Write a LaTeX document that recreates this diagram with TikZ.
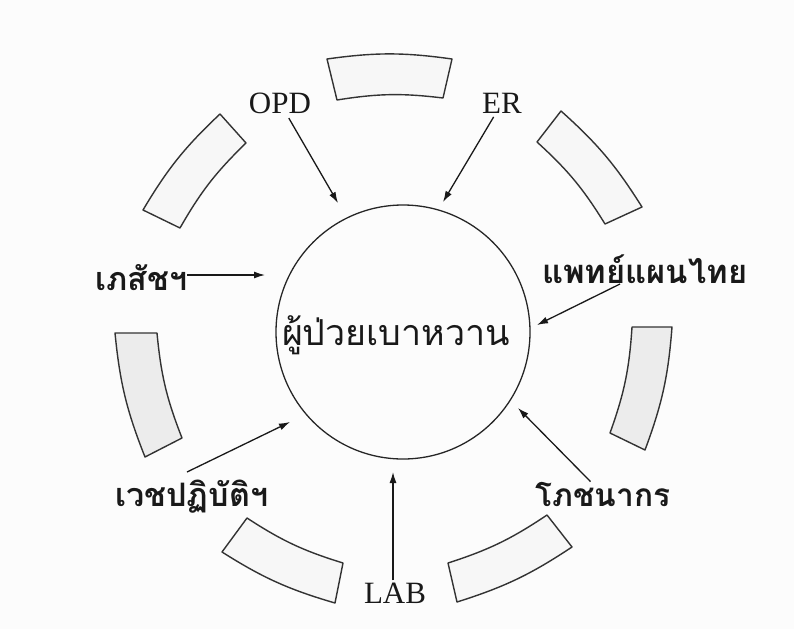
\documentclass[tikz,border=0pt]{standalone}
\usepackage{fontspec}
\setmainfont{Liberation Serif}
\newfontfamily\thaifont[Script=Thai]{Loma}
\usetikzlibrary{arrows.meta,calc}
\begin{document}
\begin{tikzpicture}[x=1pt,y=-1pt,
  seg/.style={draw=black!80, line width=1.4pt, fill=gray!6, line join=round},
  segdark/.style={seg, fill=gray!15},
  arr/.style={-{Latex[length=11pt,width=7pt]}, line width=1.3pt, draw=black!90},
  lat/.style={font=\fontsize{31}{36}\selectfont, text=black!90, inner sep=2pt},
  thl/.style={inner sep=0pt, text=black!90}]
\fill[gray!2] (0,0) rectangle (794,629);
\useasboundingbox (0,0) rectangle (794,629);

% ring segments
\draw[seg] (327,59) to[bend left=8] (452,59) -- (443,98) to[bend right=8] (337,100) -- cycle;
\draw[seg] (561,111) to[bend left=8] (642,207) -- (605,224) to[bend right=8] (537,142) -- cycle;
\draw[segdark] (672,327) to[bend left=8] (645,450) -- (610,433) to[bend right=8] (632,327) -- cycle;
\draw[seg] (572,547) to[bend left=8] (457,602) -- (448,563) to[bend right=8] (547,515) -- cycle;
\draw[seg] (335,603) to[bend left=8] (222,552) -- (247,518) to[bend right=8] (343,563) -- cycle;
\draw[segdark] (145,457) to[bend left=8] (115,333) -- (157,333) to[bend right=8] (182,438) -- cycle;
\draw[seg] (143,210) to[bend left=8] (220,114) -- (246,143) to[bend right=8] (180,228) -- cycle;

% central circle
\node[circle, draw=black!85, line width=1.3pt, minimum size=254pt, inner sep=0pt] (patient) at (403,332) {};
\node[thl, anchor=base] (patientlabel) at (396,345) {\resizebox{228pt}{!}{\thaifont ผู้ป่วยเบาหวาน}};

% labels
\node[lat, anchor=base] (opd) at (280,113) {OPD};
\node[lat, anchor=base] (er) at (502,113) {ER};
\node[lat, anchor=base] (lab) at (395,603) {LAB};
\node[thl, anchor=base west] (bhesat) at (95,290) {\resizebox{92pt}{!}{\thaifont\bfseries เภสัชฯ}};
\node[thl, anchor=base west] (thaimed) at (542,283) {\resizebox{205pt}{!}{\thaifont\bfseries แพทย์แผนไทย}};
\node[thl, anchor=base west] (vech) at (115,506) {\resizebox{153pt}{!}{\thaifont\bfseries เวชปฏิบัติฯ}};
\node[thl, anchor=base west] (phot) at (535,506) {\resizebox{135pt}{!}{\thaifont\bfseries โภชนากร}};

% arrow tips
\coordinate (opdtip) at (338,203);
\coordinate (ertip) at (443,202);
\coordinate (bhesattip) at (265,275);
\coordinate (thaitip) at (537,325);
\coordinate (phottip) at (518,408);
\coordinate (vechtip) at (290,422);
\coordinate (labtip) at (393,472);

% arrows
\draw[arr, shorten <=3pt] (opd) -- (opdtip);
\draw[arr, shorten <=2pt] (er) -- (ertip);
\draw[arr] (bhesat.east |- bhesattip) -- (bhesattip);
\draw[arr] ($(thaimed.base west)+(78,1)$) -- (thaitip);
\draw[arr] (phot) -- (phottip);
\draw[arr] ($(vech.base west)+(72,-34)$) -- (vechtip);
\draw[arr] (lab.north -| labtip) -- (labtip);
\end{tikzpicture}
\end{document}
